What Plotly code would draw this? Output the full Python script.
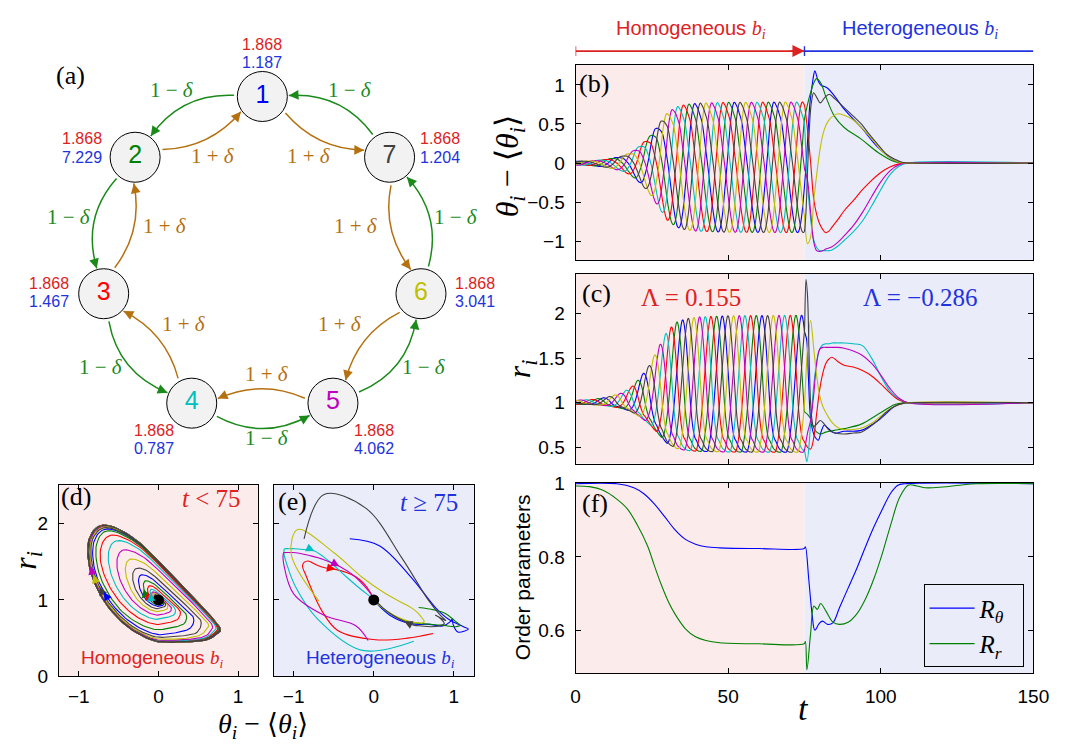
import numpy as np
import plotly.graph_objects as go

W, H = 1068, 746
SANS = "Liberation Sans, Arial, Helvetica, sans-serif"
SERIF = "Liberation Serif, Times New Roman, DejaVu Serif, serif"

# ---------------- values ----------------
NODE_LABELS = ["1", "2", "3", "4", "5", "6", "7"]
NODE_COLORS = ["#0000ff", "#008000", "#ff0000", "#00bfbf", "#bf00bf", "#bfbf00", "#404040"]
B_HOMO = ["1.868", "1.868", "1.868", "1.868", "1.868", "1.868", "1.868"]
B_HETERO = ["1.187", "7.229", "1.467", "0.787", "4.062", "3.041", "1.204"]
EDGE_FWD = "1 − <i>δ</i>"
EDGE_BWD = "1 + <i>δ</i>"
LAMBDA_HOMO = "0.155"
LAMBDA_HETERO = "−0.286"
T_SWITCH = 75
T_END = 150

X_TICKS_T = [0, 50, 100, 150]
Y_TICKS_B = [-1, -0.5, 0, 0.5, 1]
Y_TICKS_C = [0.5, 1, 1.5, 2]
Y_TICKS_F = [0.6, 0.8, 1]
X_TICKS_DE = [-1, 0, 1]
Y_TICKS_DE = [0, 1, 2]

# limit cycle of panel (d): 14 points equally spaced in phase
CYCLE_THETA = [0.74, 0.64, 0.50, 0.22, -0.07, -0.40, -0.68, -0.86, -0.87, -0.68, -0.30, 0.12, 0.56, 0.77]
CYCLE_R = [0.56, 0.49, 0.46, 0.445, 0.47, 0.66, 0.98, 1.40, 1.80, 1.98, 1.80, 1.38, 0.90, 0.64]
PERIOD = 13.0
PHASE_SLOT = [5, 6, 0, 1, 2, 3, 4]          # splay order of nodes 1..7 (sevenths of a period)
ENV_T = [0, 5, 10, 15, 18, 21, 24, 27, 30, 33, 36, 40, 50, 75]
ENV_A = [0.03, 0.035, 0.06, 0.11, 0.17, 0.28, 0.42, 0.62, 0.82, 0.92, 0.96, 0.98, 0.995, 1.0]

# heterogeneous phase (t > 75) (b), (c), (e)
HET_T_1 = [75.7, 76.3, 76.8, 77.3, 78.0, 78.4, 79.5, 80.5, 81.5, 82.5, 84.8, 88.0, 93.6, 99.1, 104.6, 107.5, 110, 150]
HET_TH_1 = [0.07, 0.48, 0.77, 0.93, 1.12, 1.18, 1.05, 0.99, 0.98, 0.96, 0.86, 0.69, 0.455, 0.20, 0.03, 0.0, 0.0, 0.0]
HET_R_1 = [1.71, 1.28, 0.90, 0.75, 0.65, 0.62, 0.58, 0.68, 0.75, 0.72, 0.66, 0.68, 0.69, 0.80, 0.96, 0.995, 1.0, 1.0]

HET_T_2 = [76, 77, 78, 79, 80.4, 82, 84.8, 88, 93.6, 99.1, 104.6, 107.5, 110, 150]
HET_TH_2 = [0.75, 0.90, 1.02, 1.08, 1.02, 0.85, 0.60, 0.455, 0.306, 0.136, 0.017, 0.0, 0.0, 0.0]
HET_R_2 = [0.87, 0.82, 0.72, 0.67, 0.65, 0.67, 0.69, 0.71, 0.76, 0.87, 0.98, 1.0, 1.0, 1.0]

HET_T_3 = [76, 77, 78, 79, 80, 81, 82, 83, 84, 86, 88, 91, 94, 97, 100, 103, 106, 109, 150]
HET_TH_3 = [0.42, 0.02, -0.45, -0.66, -0.78, -0.85, -0.89, -0.87, -0.82, -0.72, -0.61, -0.48, -0.34, -0.22, -0.12, -0.05, -0.01, 0.0, 0.0]
HET_R_3 = [0.50, 0.48, 0.60, 0.88, 1.15, 1.33, 1.44, 1.49, 1.51, 1.46, 1.42, 1.40, 1.36, 1.30, 1.21, 1.11, 1.03, 1.0, 1.0]

HET_T_4 = [75.8, 77, 78, 79, 80, 81, 82, 83, 84, 86, 88, 91, 94, 97, 100, 103, 106, 109, 150]
HET_TH_4 = [-0.14, -0.70, -0.98, -1.08, -1.12, -1.12, -1.12, -1.12, -1.11, -1.06, -0.99, -0.88, -0.74, -0.55, -0.34, -0.15, -0.04, 0.0, 0.0]
HET_R_4 = [0.34, 0.75, 1.18, 1.45, 1.60, 1.65, 1.66, 1.66, 1.67, 1.67, 1.67, 1.66, 1.64, 1.50, 1.30, 1.13, 1.04, 1.0, 1.0]

HET_T_5 = [76, 77, 78, 79, 80, 81, 82, 84, 86, 88, 91, 94, 97, 100, 103, 106, 109, 150]
HET_TH_5 = [-0.22, -0.62, -1.00, -1.12, -1.13, -1.12, -1.10, -1.07, -1.01, -0.93, -0.80, -0.63, -0.43, -0.24, -0.10, -0.02, 0.0, 0.0]
HET_R_5 = [0.66, 0.80, 1.08, 1.45, 1.60, 1.62, 1.62, 1.62, 1.62, 1.61, 1.58, 1.53, 1.44, 1.31, 1.16, 1.05, 1.0, 1.0]

HET_T_6 = [76, 77, 78, 79, 80, 81, 82, 83, 84, 86, 88, 91, 94, 97, 100, 103, 106, 109, 150]
HET_TH_6 = [-1.03, -0.95, -0.50, -0.15, 0.15, 0.36, 0.48, 0.55, 0.59, 0.63, 0.61, 0.55, 0.44, 0.31, 0.17, 0.07, 0.01, 0.0, 0.0]
HET_R_6 = [1.60, 1.92, 1.62, 1.30, 1.08, 0.96, 0.89, 0.83, 0.78, 0.72, 0.70, 0.70, 0.72, 0.77, 0.85, 0.93, 0.98, 1.0, 1.0]

HET_T_7 = [75.5, 76, 76.5, 77, 77.5, 78, 79, 80.2, 81.5, 83.1, 85, 88, 91, 93.6, 96, 99, 102, 104.6, 107, 110, 150]
HET_TH_7 = [-0.62, -0.10, 0.35, 0.68, 0.83, 0.90, 0.84, 0.77, 0.83, 0.88, 0.82, 0.71, 0.60, 0.50, 0.38, 0.24, 0.11, 0.05, 0.01, 0.0, 0.0]
HET_R_7 = [2.38, 2.20, 1.55, 1.00, 0.80, 0.73, 0.76, 0.80, 0.76, 0.69, 0.66, 0.65, 0.66, 0.67, 0.72, 0.80, 0.90, 0.96, 0.99, 1.0, 1.0]

# order parameters, panel (f)
F_T_RTH = [0, 13.5, 19.1, 22.5, 25.8, 29.2, 32.6, 36.0, 39.3, 42.7, 47.2, 60, 74.9, 75.3, 76.4, 77.5, 78.4,
           79.8, 80.9, 82.6, 84.3, 86.5, 89.3, 92.1, 94.9, 97.8, 100.6, 103.4, 105.6, 107.9, 150]
F_RTH = [1.0, 1.0, 0.989, 0.972, 0.945, 0.91, 0.874, 0.848, 0.835, 0.828, 0.825, 0.823, 0.823, 0.828, 0.74,
         0.644, 0.60, 0.618, 0.625, 0.616, 0.62, 0.662, 0.715, 0.768, 0.826, 0.883, 0.932, 0.976, 0.996, 1.0, 1.0]
F_T_RR = [0, 4.5, 9, 13.5, 16.9, 20.2, 23.6, 25.8, 28.1, 30.3, 32.6, 36, 39.3, 42.7, 47.2, 60, 74.9, 75.3, 75.8,
          77, 78.1, 79.2, 80.3, 82, 84.3, 86.5, 89.3, 92.1, 94.9, 97.8, 100.6, 103.4, 106.2, 109, 111.8, 114.6,
          120.2, 125.8, 131.5, 150]
F_RR = [0.994, 0.992, 0.982, 0.958, 0.932, 0.888, 0.83, 0.777, 0.724, 0.68, 0.644, 0.604, 0.582, 0.572, 0.566,
        0.563, 0.563, 0.569, 0.492, 0.59, 0.666, 0.657, 0.673, 0.653, 0.622, 0.616, 0.622, 0.644, 0.684, 0.742,
        0.812, 0.892, 0.963, 0.996, 0.994, 0.989, 0.991, 0.996, 1.0, 1.0]

HET_T = [HET_T_1, HET_T_2, HET_T_3, HET_T_4, HET_T_5, HET_T_6, HET_T_7]
HET_TH = [HET_TH_1, HET_TH_2, HET_TH_3, HET_TH_4, HET_TH_5, HET_TH_6, HET_TH_7]
HET_R = [HET_R_1, HET_R_2, HET_R_3, HET_R_4, HET_R_5, HET_R_6, HET_R_7]

# ---------------- styling ----------------
RED_TXT = "#dd2222"
BLUE_TXT = "#2233dd"
GREEN_EDGE = "#1b8a1b"
BROWN_EDGE = "#b5700f"
PINK_BG = "#fcebeb"
BLUE_BG = "#ebecfa"


def px_x(x):
    return x / W


def px_y(y):
    return 1 - y / H


def cycle_point(phase):
    P = np.column_stack([CYCLE_THETA, CYCLE_R])
    n = len(P)
    u = np.mod(phase, 1.0) * n
    i = np.floor(u).astype(int)
    s = (u - i)[:, None]
    p0, p1, p2, p3 = P[(i - 1) % n], P[i % n], P[(i + 1) % n], P[(i + 2) % n]
    return 0.5 * (2 * p1 + (-p0 + p2) * s + (2 * p0 - 5 * p1 + 4 * p2 - p3) * s ** 2
                  + (-p0 + 3 * p1 - 3 * p2 + p3) * s ** 3)


t_h = np.round(np.arange(0, T_SWITCH + 1e-9, 0.1), 4)
env = np.interp(t_h, ENV_T, ENV_A)
hom_th, hom_r = [], []
for k in range(7):
    ph = (t_h - T_SWITCH) / PERIOD + PHASE_SLOT[k] / 7.0
    cyc = cycle_point(ph)
    hom_th.append(env * cyc[:, 0])
    hom_r.append(1 + env * (cyc[:, 1] - 1))

fig = go.Figure()

# panels (b), (c): time series
for k in range(7):
    tt = np.concatenate([t_h, HET_T[k]])
    fig.add_trace(go.Scatter(x=tt, y=np.concatenate([hom_th[k], HET_TH[k]]), mode="lines",
                             line=dict(color=NODE_COLORS[k], width=1.1, shape="spline"),
                             showlegend=False, hoverinfo="skip", xaxis="x", yaxis="y"))
for k in range(7):
    tt = np.concatenate([t_h, HET_T[k]])
    fig.add_trace(go.Scatter(x=tt, y=np.concatenate([hom_r[k], HET_R[k]]), mode="lines",
                             line=dict(color=NODE_COLORS[k], width=1.1, shape="spline"),
                             showlegend=False, hoverinfo="skip", xaxis="x2", yaxis="y2"))

# panel (f)
fig.add_trace(go.Scatter(x=F_T_RTH, y=F_RTH, mode="lines", name="<i>R</i><sub><i>θ</i></sub>\u00a0\u00a0",
                         line=dict(color="#0000ff", width=1.1, shape="spline"),
                         hoverinfo="skip", xaxis="x3", yaxis="y3"))
fig.add_trace(go.Scatter(x=F_T_RR, y=F_RR, mode="lines", name="<i>R</i><sub><i>r</i></sub>\u00a0\u00a0",
                         line=dict(color="#008000", width=1.1, shape="spline"),
                         hoverinfo="skip", xaxis="x3", yaxis="y3"))

# panel (d): t < 75
for k in range(7):
    fig.add_trace(go.Scatter(x=hom_th[k], y=hom_r[k], mode="lines",
                             line=dict(color=NODE_COLORS[k], width=1.1),
                             showlegend=False, hoverinfo="skip", xaxis="x4", yaxis="y4"))
# panel (e): t >= 75
het_xy = []
for k in range(7):
    ex = np.concatenate([[hom_th[k][-1]], HET_TH[k]])
    ey = np.concatenate([[hom_r[k][-1]], HET_R[k]])
    het_xy.append((ex, ey))
    fig.add_trace(go.Scatter(x=ex, y=ey, mode="lines",
                             line=dict(color=NODE_COLORS[k], width=1.1, shape="spline"),
                             showlegend=False, hoverinfo="skip", xaxis="x5", yaxis="y5"))
for xa, ya in [("x4", "y4"), ("x5", "y5")]:
    fig.add_trace(go.Scatter(x=[0], y=[1], mode="markers", marker=dict(color="black", size=11),
                             showlegend=False, hoverinfo="skip", xaxis=xa, yaxis=ya))

# panel (a): network nodes (axis units = pixels)
CX, CY, RAD = 262.5, 255.0, 166.0
ang = np.deg2rad(90 + np.arange(7) * 360.0 / 7)
node_x = CX + RAD * np.cos(ang)
node_y = CY - RAD * np.sin(ang)
fig.add_trace(go.Scatter(x=node_x, y=node_y, mode="markers+text", text=NODE_LABELS,
                         textposition="middle center",
                         textfont=dict(family=SANS, size=25, color=NODE_COLORS),
                         marker=dict(size=50, color="#f2f2f2", line=dict(color="black", width=1)),
                         showlegend=False, hoverinfo="skip", xaxis="x6", yaxis="y6", cliponaxis=False))

shapes = []
anns = []

# backgrounds
for xa, ya in [("x", "y"), ("x2", "y2"), ("x3", "y3")]:
    shapes.append(dict(type="rect", xref=xa, yref=ya + " domain", x0=0, x1=T_SWITCH, y0=0, y1=1,
                       fillcolor=PINK_BG, line=dict(width=0), layer="below"))
    shapes.append(dict(type="rect", xref=xa, yref=ya + " domain", x0=T_SWITCH, x1=T_END, y0=0, y1=1,
                       fillcolor=BLUE_BG, line=dict(width=0), layer="below"))
shapes.append(dict(type="rect", xref="x4 domain", yref="y4 domain", x0=0, x1=1, y0=0, y1=1,
                   fillcolor=PINK_BG, line=dict(width=0), layer="below"))
shapes.append(dict(type="rect", xref="x5 domain", yref="y5 domain", x0=0, x1=1, y0=0, y1=1,
                   fillcolor=BLUE_BG, line=dict(width=0), layer="below"))

# header arrows
YH = px_y(42.3)
for (x0, x1, col) in [(0, T_SWITCH, RED_TXT), (T_SWITCH, T_END, BLUE_TXT)]:
    shapes.append(dict(type="line", xref="x", yref="paper", x0=x0, x1=x1, y0=YH, y1=YH,
                       line=dict(color=col, width=1.6)))
    shapes.append(dict(type="line", xref="x", yref="paper", x0=x0, x1=x0, y0=YH - 5 / H, y1=YH + 5 / H,
                       line=dict(color=col, width=1.4)))
    anns.append(dict(x=x1 + (0.8 if x1 == T_END else 0), y=YH, xref="x", yref="paper", ax=-16, ay=0,
                     text="", showarrow=True, arrowhead=2, arrowsize=1.5, arrowwidth=1.6,
                     arrowcolor=col, standoff=0))


def unit(v):
    return v / np.hypot(v[0], v[1])


# network edges
center = np.array([CX, CY])
for k in range(7):
    A = np.array([node_x[k], node_y[k]])
    B = np.array([node_x[(k + 1) % 7], node_y[(k + 1) % 7]])
    mid = (A + B) / 2
    n = unit(mid - center)
    for (P, Q, sgn, alpha, hgt, col) in [(A, B, 1, 28, 26, GREEN_EDGE), (B, A, -1, 10, 20, BROWN_EDGE)]:
        dd = unit(Q - P)
        a = np.deg2rad(alpha)
        s = P + 29 * unit(dd * np.cos(a) + sgn * n * np.sin(a))
        e = Q + 27 * unit(-dd * np.cos(a) + sgn * n * np.sin(a))
        c = (s + e) / 2 + sgn * n * hgt
        path = f"M {s[0]:.2f},{s[1]:.2f} Q {c[0]:.2f},{c[1]:.2f} {e[0]:.2f},{e[1]:.2f}"
        shapes.append(dict(type="path", path=path, xref="x6", yref="y6",
                           line=dict(color=col, width=1.5), layer="below"))
        tail = e - unit(e - c) * 10
        anns.append(dict(x=e[0], y=e[1], ax=tail[0], ay=tail[1], xref="x6", yref="y6",
                         axref="x6", ayref="y6", text="", showarrow=True, arrowhead=2,
                         arrowsize=1.3, arrowwidth=1.5, arrowcolor=col, standoff=0))

GREEN_LABEL_XY = [(170, 82), (65, 213), (98, 367), (267, 440), (427, 367), (460, 213), (352, 82)]
BROWN_LABEL_XY = [(212, 150), (163, 222), (183, 323), (267, 375), (342, 323), (358, 222), (310, 150)]
for (gx, gy), (bx, by) in zip(GREEN_LABEL_XY, BROWN_LABEL_XY):
    anns.append(dict(x=gx, y=gy, xref="x6", yref="y6", text=EDGE_FWD, showarrow=False,
                     xanchor="center", yanchor="middle",
                     font=dict(family=SERIF, size=21, color=GREEN_EDGE)))
    anns.append(dict(x=bx, y=by, xref="x6", yref="y6", text=EDGE_BWD, showarrow=False,
                     xanchor="center", yanchor="middle",
                     font=dict(family=SERIF, size=21, color=BROWN_EDGE)))

NUM_OFFSETS = [(0, -54, -35, "center"), (-32, -19, 0, "right"), (-33, -11, 8, "right"),
               (-39, 28, 47, "center"), (42, 28, 47, "center"), (33, -11, 8, "left"), (29, -19, 0, "left")]
for k, (dx, dyr, dyb, xan) in enumerate(NUM_OFFSETS):
    anns.append(dict(x=node_x[k] + dx, y=node_y[k] + dyr, xref="x6", yref="y6", text=B_HOMO[k],
                     showarrow=False, xanchor=xan, yanchor="middle",
                     font=dict(family=SANS, size=16, color=RED_TXT)))
    anns.append(dict(x=node_x[k] + dx, y=node_y[k] + dyb, xref="x6", yref="y6", text=B_HETERO[k],
                     showarrow=False, xanchor=xan, yanchor="middle",
                     font=dict(family=SANS, size=16, color=BLUE_TXT)))

# arrows on trajectories in (d)
D_ARROW_TARGETS = [(5, -0.77, 1.47), (6, -0.68, 1.37), (7, -0.58, 1.26), (1, -0.49, 1.20),
                   (2, -0.39, 1.10), (3, -0.31, 1.09), (4, -0.24, 1.07)]
for node, tx, ty in D_ARROW_TARGETS:
    k = node - 1
    th, rr = hom_th[k], hom_r[k]
    i = int(np.argmin((th - tx) ** 2 + (rr - ty) ** 2))
    i = min(max(i, 1), len(th) - 2)
    dv = unit(np.array([th[i + 1] - th[i - 1], rr[i + 1] - rr[i - 1]]))
    anns.append(dict(x=th[i], y=rr[i], ax=th[i] - dv[0] * 0.07, ay=rr[i] - dv[1] * 0.07,
                     xref="x4", yref="y4", axref="x4", ayref="y4", text="", showarrow=True,
                     arrowhead=2, arrowsize=1.4, arrowwidth=1.2, arrowcolor=NODE_COLORS[k], standoff=0))

E_ARROW_TARGETS = [(4, -0.63, 1.62), (5, -0.53, 1.47), (3, -0.49, 1.38), (7, 0.36, 0.75)]
for node, tx, ty in E_ARROW_TARGETS:
    k = node - 1
    ex, ey = het_xy[k]
    i = int(np.argmin((ex - tx) ** 2 + (ey - ty) ** 2))
    i = min(max(i, 1), len(ex) - 2)
    dv = unit(np.array([ex[i + 1] - ex[i - 1], ey[i + 1] - ey[i - 1]]))
    anns.append(dict(x=ex[i], y=ey[i], ax=ex[i] - dv[0] * 0.07, ay=ey[i] - dv[1] * 0.07,
                     xref="x5", yref="y5", axref="x5", ayref="y5", text="", showarrow=True,
                     arrowhead=2, arrowsize=1.4, arrowwidth=1.2, arrowcolor=NODE_COLORS[k], standoff=0))


def txt(x, y, text, size, color="black", family=SERIF, angle=0):
    return dict(x=px_x(x), y=px_y(y), xref="paper", yref="paper", text=text, showarrow=False,
                xanchor="center", yanchor="middle", textangle=angle,
                font=dict(family=family, size=size, color=color))


TH_I = "<i>θ</i><sub><i>i</i></sub>"
R_I = "<i>r</i><sub><i>i</i></sub>"
B_I = "<span style=\"font-family:Liberation Serif\"><i>b</i><sub><i>i</i></sub></span>"
THETA_DEV = TH_I + " − ⟨" + TH_I + "⟩"

anns += [
    txt(700, 20, "Homogeneous " + B_I, 20, RED_TXT, SANS),
    txt(933, 20, "Heterogeneous " + B_I, 20, BLUE_TXT, SANS),
    txt(67, 67, "(a)", 26),
    txt(601, 76, "(b)", 26),
    txt(603, 292, "(c)", 26),
    txt(602, 508, "(f)", 26),
    txt(72, 501, "(d)", 26),
    txt(293, 506, "(e)", 26),
    txt(700, 296, "Λ = " + LAMBDA_HOMO, 25, RED_TXT),
    txt(933, 296, "Λ = " + LAMBDA_HETERO, 25, BLUE_TXT),
    txt(211, 503, "<i>t</i> &lt; " + str(T_SWITCH), 25, RED_TXT),
    txt(433, 507, "<i>t</i> ≥ " + str(T_SWITCH), 25, BLUE_TXT),
    txt(150, 668, "Homogeneous " + B_I, 19, RED_TXT, SANS),
    txt(383, 668, "Heterogeneous " + B_I, 19, BLUE_TXT, SANS),
    txt(515, 160, THETA_DEV, 32, angle=-90),
    txt(527, 369, R_I, 32, angle=-90),
    txt(528, 584, "Order parameters", 21, family=SANS, angle=-90),
    txt(22, 566, R_I, 32, angle=-90),
    txt(263, 736, THETA_DEV, 28),
    txt(815, 719, "<i>t</i>", 34),
]


def frame_axis(domain, rng, tickvals, labels, anchor, standoff=6):
    return dict(domain=domain, range=rng, tickvals=tickvals, showticklabels=labels, anchor=anchor,
                showline=True, linecolor="black", linewidth=1, mirror="ticks", ticks="inside",
                ticklen=5, tickwidth=1, tickcolor="black", showgrid=False, zeroline=False,
                tickfont=dict(family=SANS, size=19, color="black"), fixedrange=True,
                ticklabelstandoff=standoff, ticklabeloverflow="allow")


XR = [px_x(582), px_x(1049)]
fig.update_layout(
    width=W, height=H, autosize=False, margin=dict(l=0, r=0, t=0, b=0),
    paper_bgcolor="white", plot_bgcolor="white",
    xaxis=frame_axis(XR, [0, T_END], X_TICKS_T, False, "y"),
    yaxis=frame_axis([px_y(257.7), px_y(56.5)], [-1.245, 1.255], Y_TICKS_B, True, "x"),
    xaxis2=frame_axis(XR, [0, T_END], X_TICKS_T, False, "y2"),
    yaxis2=frame_axis([px_y(466.7), px_y(271.7)], [0.318, 2.442], Y_TICKS_C, True, "x2"),
    xaxis3=frame_axis(XR, [0, T_END], X_TICKS_T, True, "y3"),
    yaxis3=frame_axis([px_y(682.3), px_y(486.7)], [0.483, 1.002], Y_TICKS_F, True, "x3"),
    xaxis4=frame_axis([px_x(55), px_x(258)], [-1.25, 1.25], X_TICKS_DE, True, "y4", standoff=3),
    yaxis4=frame_axis([px_y(685.7), px_y(489)], [0, 2.5], Y_TICKS_DE, True, "x4"),
    xaxis5=frame_axis([px_x(274), px_x(478.3)], [-1.25, 1.25], X_TICKS_DE, True, "y5", standoff=3),
    yaxis5=frame_axis([px_y(685.7), px_y(489)], [0, 2.5], Y_TICKS_DE, False, "x5"),
    xaxis6=dict(domain=[0, px_x(534)], range=[0, 534], visible=False, anchor="y6", fixedrange=True),
    yaxis6=dict(domain=[px_y(480), 1], range=[480, 0], visible=False, anchor="x6", fixedrange=True),
    showlegend=True,
    legend=dict(x=px_x(937), y=px_y(591), xanchor="left", yanchor="top", bordercolor="black",
                borderwidth=1, bgcolor="rgba(0,0,0,0)", font=dict(family=SERIF, size=25, color="black"),
                itemwidth=45, tracegroupgap=0),
    shapes=shapes, annotations=anns,
)

fig.write_html("out.html", config={"displayModeBar": False})
